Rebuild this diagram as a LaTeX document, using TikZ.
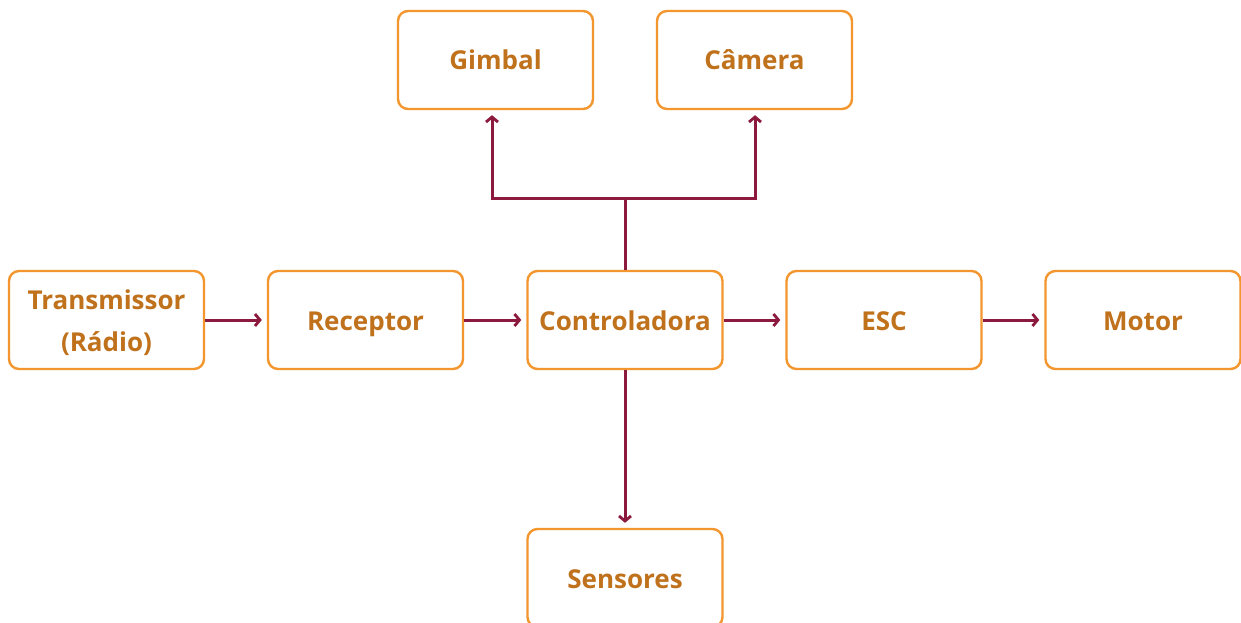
\documentclass[tikz,border=0pt]{standalone}
\usepackage{fontspec}
\setmainfont{Open Sans}
\usetikzlibrary{arrows.meta}
\definecolor{boxorange}{HTML}{F4962E}
\definecolor{txtorange}{HTML}{C0711B}
\definecolor{arrowred}{HTML}{8C1A3E}
\tikzset{
  blkbase/.style={draw=boxorange, line width=2.4pt, rounded corners=10pt, fill=white,
    minimum width=195pt, minimum height=98pt, inner sep=0pt,
    text=txtorange, font=\bfseries\fontsize{26}{42}\selectfont, align=center},
  blk/.style={blkbase, text height=22pt, text depth=2pt},
  conn/.style={draw=arrowred, line width=3pt},
  arr/.style={conn, -{Straight Barb[length=5pt,width=12pt,line width=2.8pt]}, shorten >=5pt}
}
\begin{document}
\begin{tikzpicture}[x=1pt,y=-1pt]
\clip (0,0) rectangle (1241,623);
\fill[white] (0,0) rectangle (1241,623);
\node[blkbase] (tx)   at (106.5,320) {\raisebox{0pt}[\dimexpr\height+5pt\relax]{\begin{tabular}{@{}c@{}}Transmissor\\(Rádio)\end{tabular}}};
\node[blk] (rx)   at (365.5,320) {Receptor};
\node[blk] (ctl)  at (625,320)   {Controladora};
\node[blk] (esc)  at (884,320)   {ESC};
\node[blk] (mot)  at (1143,320)  {Motor};
\node[blk] (gim)  at (495.5,60)  {Gimbal};
\node[blk] (cam)  at (754.5,60)  {Câmera};
\node[blk] (sen)  at (625,578)   {Sensores};
\coordinate (j) at (625,198);
\draw[arr] (tx.east) -- (rx.west);
\draw[arr] (rx.east) -- (ctl.west);
\draw[arr] (ctl.east) -- (esc.west);
\draw[arr] (esc.east) -- (mot.west);
\draw[arr] (ctl.south) -- (sen.north);
\draw[conn] (ctl.north) -- (j);
\draw[arr, rounded corners=0pt] (j) -| ([xshift=-3.5pt]gim.south);
\draw[arr, rounded corners=0pt] (j) -| ([xshift=0.5pt]cam.south);
\end{tikzpicture}
\end{document}
